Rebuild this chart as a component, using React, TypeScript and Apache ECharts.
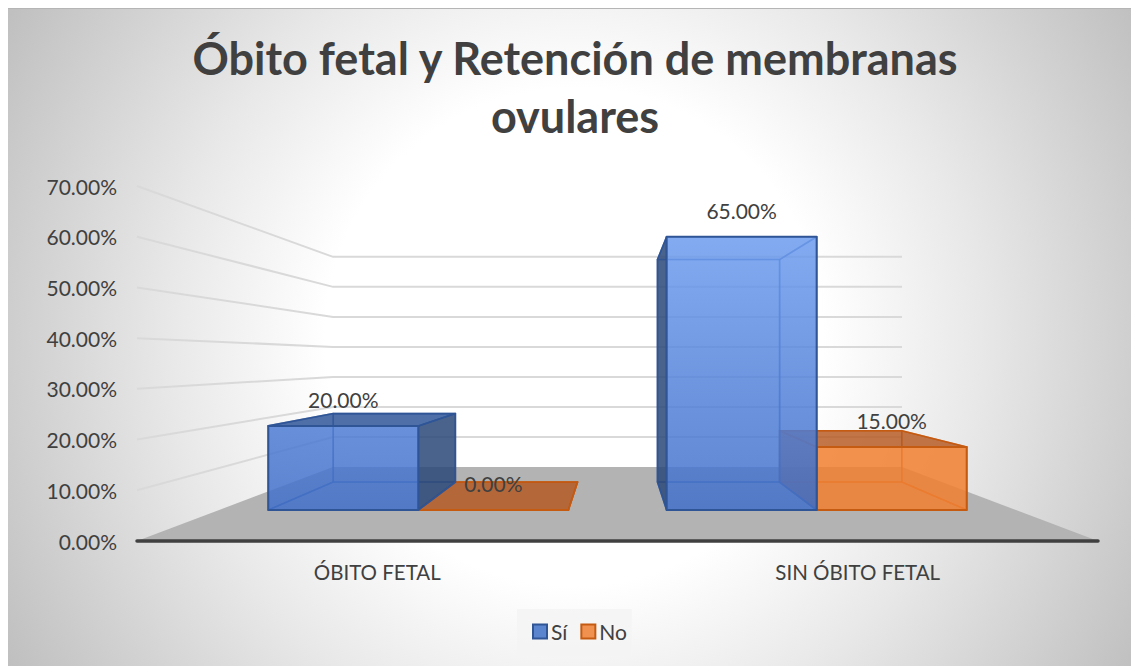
import React, { useEffect, useRef } from "react";
import * as echarts from "echarts";

const categories = ["ÓBITO FETAL", "SIN ÓBITO FETAL"];
const siValues = [20, 65];
const noValues = [0, 15];
const gridTicks = [10, 20, 30, 40, 50, 60, 70];
const titleText = "Óbito fetal y Retención de membranas\novulares";

const FONT = "Lato, Carlito, 'Open Sans', sans-serif";
const TEXT = "#404040";
const DEPTH_PX = 74; // floor height on screen
const SHRINK = 0.408; // width lost at the back wall
const T_FRONT = 0.419;
const T_BACK = 0.797;
const BAR_SHARE = 0.3767;

function projector(params: any, api: any) {
  const cs = params.coordSys;
  const cx = cs.x + cs.width / 2;
  const y0 = api.coord([0, 0])[1];
  return (X: number, Y: number, t: number): number[] => {
    const s = 1 - SHRINK * t;
    return [cx + (X - cx) * s, y0 - DEPTH_PX * t - (y0 - Y) * s];
  };
}

function makeBar(opts: {
  offset: number;
  frontFill: (api: any) => any;
  sideFill: string;
  topFill: string;
  stroke: string;
  innerStroke: string;
}) {
  return (params: any, api: any) => {
    const idx = api.value(0);
    const val = api.value(1);
    const p = projector(params, api);
    const c = api.coord([idx, val]);
    const y0 = api.coord([idx, 0])[1];
    const band = api.size([1, 0])[0];
    const w = band * BAR_SHARE;
    const xL = c[0] + (opts.offset < 0 ? -w : 0);
    const xR = xL + w;
    const cs = params.coordSys;
    const cxm = cs.x + cs.width / 2;

    const fTL = p(xL, c[1], T_FRONT), fTR = p(xR, c[1], T_FRONT);
    const fBL = p(xL, y0, T_FRONT), fBR = p(xR, y0, T_FRONT);
    const bTL = p(xL, c[1], T_BACK), bTR = p(xR, c[1], T_BACK);
    const bBL = p(xL, y0, T_BACK), bBR = p(xR, y0, T_BACK);

    const poly = (points: number[][], fill: any, stroke: string, lineWidth = 1.6) => ({
      type: "polygon",
      shape: { points },
      style: { fill, stroke, lineWidth, lineJoin: "round" },
    });

    const rightOuter = (xL + xR) / 2 < cxm && xR < cxm;
    const leftOuter = xL > cxm;
    const topVisible = bTL[1] < fTL[1];
    const none = "rgba(0,0,0,0)";

    const children: any[] = [
      poly([bTL, bTR, bBR, bBL], none, opts.innerStroke),
      poly([fBL, fBR, bBR, bBL], none, opts.innerStroke),
      poly([fTL, bTL, bBL, fBL], leftOuter ? opts.sideFill : none, leftOuter ? opts.stroke : opts.innerStroke),
      poly([fTR, bTR, bBR, fBR], rightOuter ? opts.sideFill : none, rightOuter ? opts.stroke : opts.innerStroke),
      poly([fTL, fTR, bTR, bTL], topVisible ? opts.topFill : none, topVisible ? opts.stroke : opts.innerStroke),
      poly([fTL, fTR, fBR, fBL], opts.frontFill(api), opts.stroke, 2),
      {
        type: "text",
        style: {
          x: (fTL[0] + fTR[0]) / 2,
          y: fTL[1] - 26,
          text: val.toFixed(2) + "%",
          font: `21px ${FONT}`,
          fill: TEXT,
          align: "center",
          verticalAlign: "middle",
        },
      },
    ];
    return { type: "group", children };
  };
}

function renderWalls(params: any, api: any) {
  const v = api.value(0);
  const cs = params.coordSys;
  const p = projector(params, api);
  const Y = api.coord([0, v])[1];
  const Xl = cs.x;
  const Xr = cs.x + cs.width;
  const a = p(Xl, Y, 0), b = p(Xl, Y, 1), d = p(Xr, Y, 1);
  return {
    type: "polyline",
    shape: { points: [a, b, d] },
    style: { fill: "none", stroke: "#d9d9d9", lineWidth: 2 },
  };
}

function renderFloor(params: any, api: any) {
  const cs = params.coordSys;
  const p = projector(params, api);
  const Y = api.coord([0, 0])[1];
  const Xl = cs.x;
  const Xr = cs.x + cs.width;
  return {
    type: "polygon",
    shape: { points: [p(Xl, Y, 0), p(Xr, Y, 0), p(Xr, Y, 1), p(Xl, Y, 1)] },
    style: { fill: "#b3b3b3" },
  };
}

export default function App() {
  const ref = useRef<HTMLDivElement>(null);
  useEffect(() => {
    const chart = echarts.init(ref.current!, undefined, { renderer: "svg" });
    chart.setOption({
      animation: false,
      graphic: [
        {
          type: "rect",
          z: -10,
          silent: true,
          shape: { x: 0, y: 0, width: 1131, height: 658 },
          style: {
            fill: {
              type: "radial",
              global: true,
              x: 566,
              y: 329,
              r: 655,
              colorStops: [
                { offset: 0, color: "#ffffff" },
                { offset: 0.38, color: "#ffffff" },
                { offset: 0.62, color: "#e8e8e8" },
                { offset: 1, color: "#bfbfbf" },
              ],
            },
          },
        },
        {
          type: "line",
          z: -9,
          silent: true,
          shape: { x1: 0, y1: 0.5, x2: 1131, y2: 0.5 },
          style: { stroke: "#b5b5b5", lineWidth: 1 },
        },
      ],
      title: {
        text: titleText,
        left: 562,
        top: 16,
        textAlign: "center",
        textStyle: { fontFamily: FONT, fontSize: 45, fontWeight: "bold", color: TEXT, lineHeight: 58 },
      },
      legend: {
        left: 509,
        top: 601,
        padding: [12, 5, 14, 15],
        backgroundColor: "rgba(244,244,244,0.8)",
        icon: "rect",
        itemWidth: 14,
        itemHeight: 14,
        itemGap: 13,
        textStyle: { fontFamily: FONT, fontSize: 21, color: TEXT, padding: [0, 0, 0, -1] },
        data: [
          { name: "Sí", itemStyle: { color: "#5b84cf", borderColor: "#2f5597", borderWidth: 2 } },
          { name: "No", itemStyle: { color: "#f0914f", borderColor: "#c55a11", borderWidth: 2 } },
        ],
      },
      grid: { left: 129, top: 178, width: 961, height: 355, containLabel: false },
      xAxis: {
        type: "category",
        data: categories,
        z: 10,
        axisTick: { show: false },
        axisLine: { show: true, lineStyle: { color: TEXT, width: 3.5 } },
        axisLabel: { fontFamily: FONT, fontSize: 20.5, color: TEXT, margin: 20 },
      },
      yAxis: {
        type: "value",
        min: 0,
        max: 70,
        interval: 10,
        axisLine: { show: false },
        axisTick: { show: false },
        splitLine: { show: false },
        axisLabel: {
          fontFamily: FONT,
          fontSize: 21,
          color: TEXT,
          margin: 20,
          formatter: (v: number) => v.toFixed(2) + "%",
        },
      },
      series: [
        {
          type: "custom",
          name: "walls",
          z: 1,
          silent: true,
          clip: false,
          data: gridTicks.map((v) => [v]),
          encode: { x: -1, y: 0 },
          renderItem: renderWalls,
        },
        {
          type: "custom",
          name: "floor",
          z: 1,
          silent: true,
          clip: false,
          data: [[0]],
          encode: { x: -1, y: 0 },
          renderItem: renderFloor,
        },
        {
          type: "custom",
          name: "Sí",
          z: 4,
          silent: true,
          clip: false,
          itemStyle: { color: "#5b84cf", borderColor: "#2f5597" },
          data: siValues.map((v, i) => [i, v]),
          encode: { x: 0, y: 1 },
          renderItem: makeBar({
            offset: -1,
            frontFill: (api: any) => ({
              type: "linear",
              global: true,
              x: 0,
              y: api.coord([0, 65])[1],
              x2: 0,
              y2: api.coord([0, 0])[1],
              colorStops: [
                { offset: 0, color: "rgba(112,160,243,0.85)" },
                { offset: 1, color: "rgba(60,106,196,0.85)" },
              ],
            }),
            sideFill: "rgba(42,72,120,0.85)",
            topFill: "rgba(48,86,153,0.85)",
            stroke: "#2f5597",
            innerStroke: "rgba(47,85,151,0.6)",
          }),
        },
        {
          type: "custom",
          name: "No",
          z: 3,
          silent: true,
          clip: false,
          itemStyle: { color: "#f0914f", borderColor: "#c55a11" },
          data: noValues.map((v, i) => [i, v]),
          encode: { x: 0, y: 1 },
          renderItem: makeBar({
            offset: 1,
            frontFill: () => "rgba(241,127,48,0.85)",
            sideFill: "rgba(180,85,28,0.8)",
            topFill: "rgba(180,85,28,0.8)",
            stroke: "#c55a11",
            innerStroke: "rgba(197,90,17,0.6)",
          }),
        },
      ],
    });
    return () => chart.dispose();
  }, []);
  return <div ref={ref} style={{ width: 1131, height: 658 }} />;
}
